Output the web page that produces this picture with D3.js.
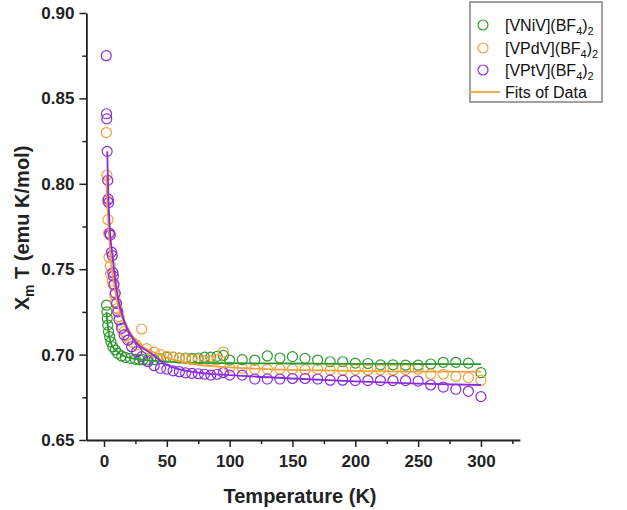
<!DOCTYPE html>
<html><head><meta charset="utf-8">
<script src="https://cdn.jsdelivr.net/npm/d3@7"></script>
<style>
body{margin:0;background:#fff}
svg{display:block}
text{font-family:Arial,"Liberation Sans",sans-serif}
</style>
</head><body>
<svg id="chart" width="627" height="510"></svg>
<script>
// ---------- data ----------
const xTicks = [0, 50, 100, 150, 200, 250, 300];
const xMinorTicks = [25, 75, 125, 175, 225, 275, 325];
const yTicks = [0.65, 0.70, 0.75, 0.80, 0.85, 0.90];
const yMinorTicks = [0.675, 0.725, 0.775, 0.825, 0.875];
const yTickLabels = ["0.65", "0.70", "0.75", "0.80", "0.85", "0.90"];

const niT = [2.0,2.3,2.6,3.0,3.6,4.5,5.5,7,9,11,14,17,21,25,28,31,35,40,45,50,55,60,65,70,75,80,85,90,95,100,110,120,130,140,150,160,170,180,190,200,210,220,230,240,250,260,270,280,290,300];
const niV = [0.729,0.725,0.7212,0.7173,0.7134,0.7105,0.7075,0.7046,0.7027,0.7007,0.6992,0.6984,0.6978,0.6972,0.697,0.697,0.6968,0.697,0.6975,0.6985,0.6985,0.698,0.698,0.6978,0.698,0.6985,0.6985,0.699,0.6995,0.6968,0.697,0.6968,0.6992,0.698,0.6988,0.6978,0.6968,0.6958,0.6958,0.695,0.6948,0.694,0.694,0.6938,0.6938,0.6945,0.6955,0.6955,0.695,0.6894];

const pdT = [1.9,2.3,2.7,3.2,3.6,4.0,5.0,5.3,6.5,7.4,8.5,9.2,10.5,12,14,16,18,20,23,26,30,34,40,45,50,55,60,65,70,75,80,85,90,95,100,110,120,130,140,150,160,170,180,190,200,210,220,230,240,250,260,270,280,290,300];
const pdV = [0.830,0.805,0.790,0.779,0.771,0.757,0.752,0.747,0.743,0.741,0.735,0.731,0.727,0.722,0.717,0.7135,0.711,0.709,0.707,0.7055,0.715,0.7035,0.7015,0.700,0.699,0.6985,0.698,0.6975,0.697,0.697,0.6965,0.6965,0.697,0.7015,0.6925,0.692,0.6915,0.6915,0.6915,0.6915,0.6912,0.6915,0.691,0.691,0.6912,0.691,0.6912,0.691,0.6912,0.6915,0.6885,0.6885,0.6872,0.6865,0.685];

const ptT = [1.8,2.0,2.2,2.5,3.0,3.4,3.7,4.5,5.0,6.0,6.6,7.0,7.5,8.0,9.0,10.0,11.0,12.0,14,16,19,22,26,30,35,40,45,50,55,60,65,70,75,80,85,90,95,100,110,120,130,140,150,160,170,180,190,200,210,220,230,240,250,260,270,280,290,300];
const ptV = [0.875,0.841,0.838,0.819,0.802,0.791,0.789,0.771,0.770,0.760,0.758,0.748,0.746,0.741,0.736,0.730,0.725,0.7203,0.7154,0.7115,0.7085,0.7046,0.7017,0.6988,0.6958,0.6935,0.692,0.6915,0.6905,0.690,0.6893,0.689,0.6888,0.6885,0.688,0.6885,0.6895,0.688,0.688,0.6857,0.6857,0.6857,0.686,0.686,0.6857,0.685,0.685,0.6848,0.6848,0.6848,0.6848,0.6848,0.6845,0.6822,0.681,0.6797,0.6785,0.6754];

const niFitT = [2,2.5,3,4,5,6,8,10,15,20,30,40,60,100,150,200,250,300];
const niFitV = [0.725,0.7205,0.717,0.7115,0.708,0.706,0.7035,0.702,0.6995,0.6982,0.697,0.6963,0.6955,0.695,0.6948,0.6946,0.6945,0.6944];
const pdFitT = [1.8,2.5,3,4,5,6,7.5,10,13,16,22,31,44,55,75,100,150,200,250,300];
const pdFitV = [0.805,0.79,0.782,0.77,0.759,0.751,0.744,0.733,0.724,0.7195,0.7115,0.7046,0.700,0.697,0.694,0.6925,0.691,0.6905,0.690,0.690];
const ptFitT = [2.6,3,3.5,4,5,6.6,8.8,11.4,15.8,20,27,37.6,48.6,62,80,100,150,200,250,300];
const ptFitV = [0.819,0.806,0.793,0.783,0.77,0.759,0.744,0.732,0.7203,0.713,0.706,0.7007,0.6945,0.691,0.689,0.688,0.686,0.6843,0.683,0.6822];

const seriesNames = ["[VNiV](BF", "[VPdV](BF", "[VPtV](BF"];
const fitLabel = "Fits of Data";
const colors = ["#2e9a2e", "#f0a23a", "#8a2be2"];

// ---------- drawing ----------
const svg = d3.select("#chart");
const x = d3.scaleLinear().domain([-14, 331]).range([86.4, 519.9]);
const y = d3.scaleLinear().domain([0.65, 0.90]).range([440, 13]);

const series = [
  {T: niT, V: niV, fT: niFitT, fV: niFitV, c: colors[0]},
  {T: pdT, V: pdV, fT: pdFitT, fV: pdFitV, c: colors[1]},
  {T: ptT, V: ptV, fT: ptFitT, fV: ptFitV, c: colors[2]}
];

// axes
svg.append("g").attr("transform", `translate(0,${y(0.65)})`)
  .call(d3.axisBottom(x).tickValues(xTicks).tickSize(7).tickSizeOuter(0).tickPadding(8).tickFormat(d3.format("d")));
const xMinor = svg.append("g").attr("transform", `translate(0,${y(0.65)})`)
  .call(d3.axisBottom(x).tickValues(xMinorTicks).tickSize(4).tickSizeOuter(0).tickFormat(""));
xMinor.select(".domain").remove();

svg.append("g").attr("transform", `translate(${x.range()[0]},0)`)
  .call(d3.axisLeft(y).tickValues(yTicks).tickSize(7).tickSizeOuter(0).tickPadding(5).tickFormat((d,i)=>yTickLabels[i]));
const yMinor = svg.append("g").attr("transform", `translate(${x.range()[0]},0)`)
  .call(d3.axisLeft(y).tickValues(yMinorTicks).tickSize(4).tickSizeOuter(0).tickFormat(""));
yMinor.select(".domain").remove();

svg.selectAll(".domain").attr("stroke", "#222").attr("stroke-width", 1.8);
svg.selectAll(".tick line").attr("stroke", "#222").attr("stroke-width", 1.5);
svg.selectAll(".tick text").attr("font-size", 17).attr("font-weight", "bold").attr("fill", "#222")
  .attr("font-family", "Arial, 'Liberation Sans', sans-serif");

// axis titles
svg.append("text").attr("x", 300).attr("y", 503).attr("text-anchor","middle")
  .attr("font-size", 20).attr("font-weight","bold").attr("fill","#222").text("Temperature (K)");
const yt = svg.append("text").attr("transform", "translate(29,228) rotate(-90)").attr("text-anchor","middle")
  .attr("font-size", 20).attr("font-weight","bold").attr("fill","#222");
yt.append("tspan").text("X");
yt.append("tspan").attr("font-size", 14).attr("dy", 5).text("m");
yt.append("tspan").attr("dy", -5).text(" T (emu K/mol)");

// points
series.forEach(s => {
  svg.append("g").selectAll("circle").data(s.T.map((t,i)=>[t, s.V[i]])).join("circle")
    .attr("cx", d => x(d[0])).attr("cy", d => y(d[1])).attr("r", 5)
    .attr("fill", "none").attr("stroke", s.c).attr("stroke-width", 1.2);
});
// fit lines
const line = d3.line().x(d => x(d[0])).y(d => y(d[1])).curve(d3.curveMonotoneX);
series.forEach(s => {
  svg.append("path").datum(s.fT.map((t,i)=>[t, s.fV[i]])).attr("d", line)
    .attr("fill","none").attr("stroke", s.c).attr("stroke-width", 1.8);
});

// legend
const lg = svg.append("g");
lg.append("rect").attr("x", 470).attr("y", 2).attr("width", 132).attr("height", 100)
  .attr("fill","#fff").attr("stroke","#444").attr("stroke-width",1);
const rowY = [25, 48, 70, 92];
seriesNames.forEach((n, i) => {
  lg.append("circle").attr("cx", 483).attr("cy", rowY[i]).attr("r", 5)
    .attr("fill","none").attr("stroke", colors[i]).attr("stroke-width", 1.2);
  const t = lg.append("text").attr("x", 505).attr("y", rowY[i] + 6).attr("font-size", 16).attr("fill","#111");
  t.append("tspan").text(n);
  t.append("tspan").attr("font-size", 11).attr("dy", 4).text("4");
  t.append("tspan").attr("dy", -4).text(")");
  t.append("tspan").attr("font-size", 11).attr("dy", 4).text("2");
});
lg.append("line").attr("x1", 470).attr("x2", 500).attr("y1", rowY[3]).attr("y2", rowY[3])
  .attr("stroke", colors[1]).attr("stroke-width", 1.8);
lg.append("text").attr("x", 505).attr("y", rowY[3] + 6).attr("font-size", 16).attr("fill","#111").text(fitLabel);
</script>
</body></html>
